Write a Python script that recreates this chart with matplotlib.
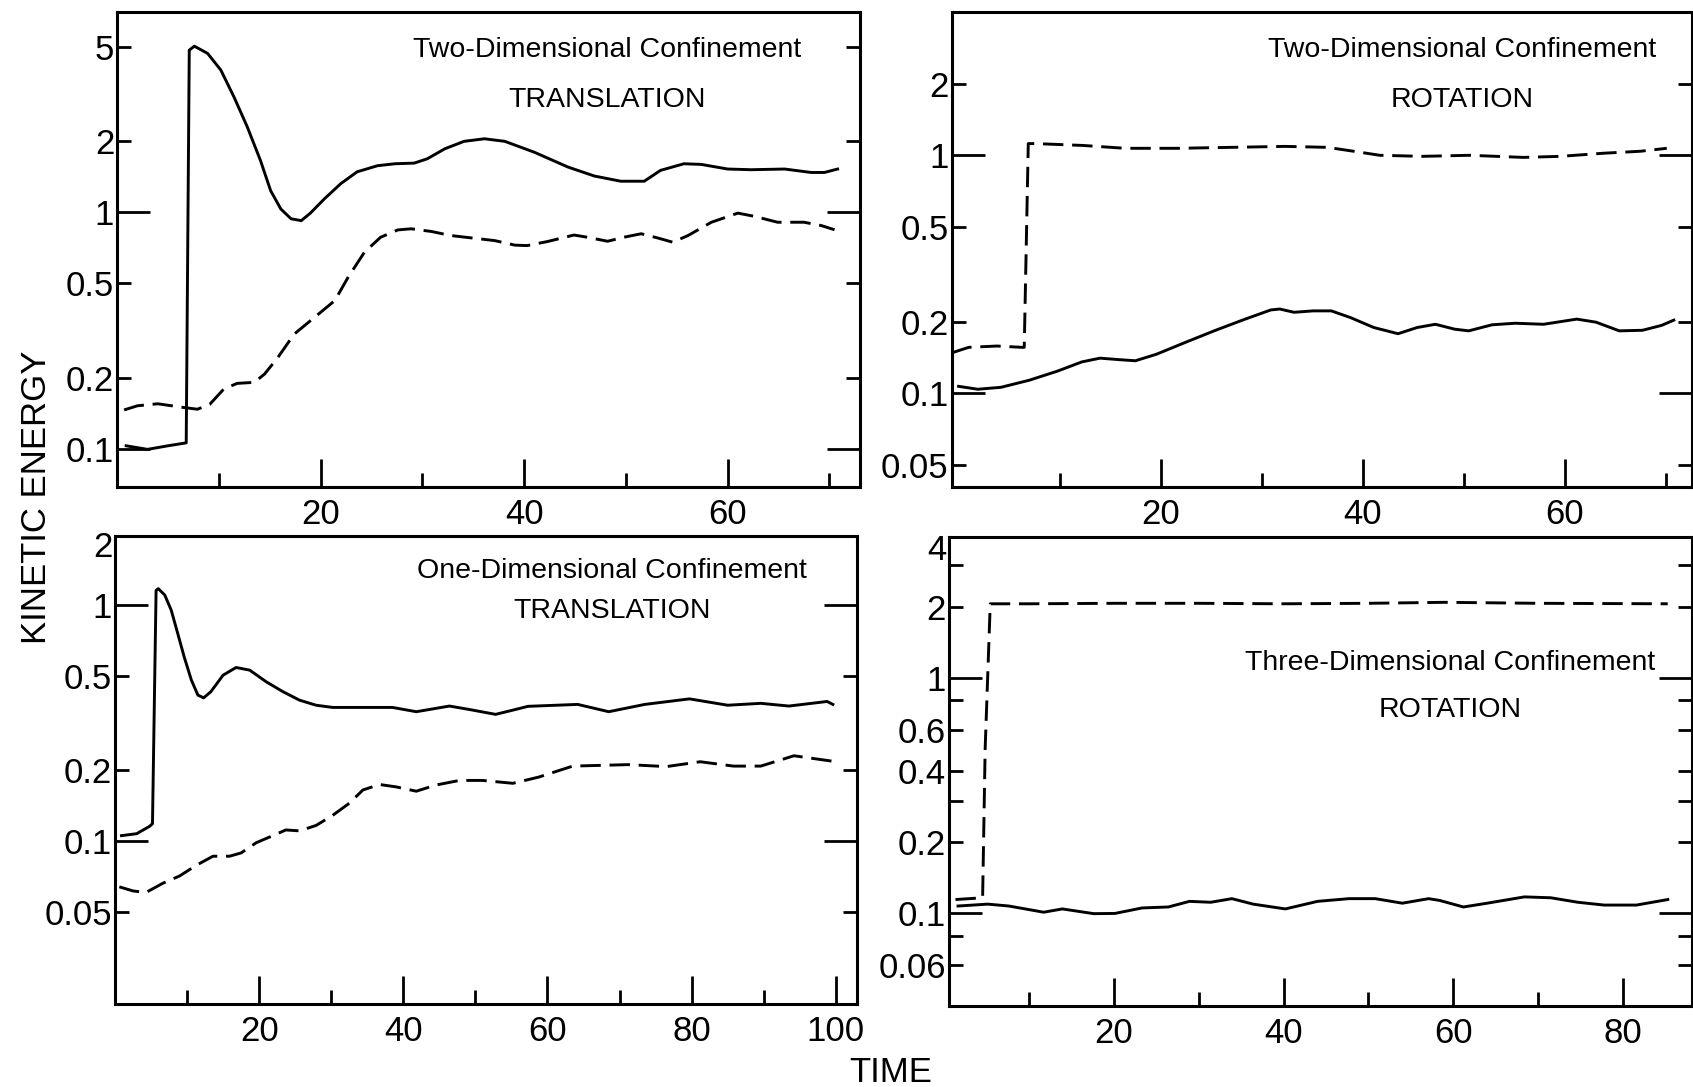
import matplotlib.pyplot as plt

plt.rcParams['font.family'] = ['Liberation Sans', 'DejaVu Sans']

# top left: two-dimensional confinement, translation
tl_solid_t = [0.9, 3.0, 5.0, 6.8, 7.1, 7.6, 8.9, 10.2, 11.5, 12.8, 14.1, 15.1, 16.1, 17.1, 18.1, 19.0,
              20.4, 22.0, 23.6, 25.6, 27.3, 29.2, 30.5, 32.2, 34.1, 36.1, 38.1, 41.0, 44.3, 46.9, 49.5,
              51.8, 53.4, 55.7, 57.4, 60.0, 62.3, 65.6, 68.2, 69.5, 70.8]
tl_solid_ke = [0.103, 0.0995, 0.103, 0.106, 4.83, 5.02, 4.68, 3.98, 3.06, 2.29, 1.65, 1.23, 1.03, 0.937, 0.92, 0.99,
               1.14, 1.32, 1.48, 1.57, 1.60, 1.61, 1.68, 1.85, 1.99, 2.04, 1.99, 1.79, 1.55, 1.42, 1.35,
               1.35, 1.50, 1.60, 1.59, 1.52, 1.51, 1.52, 1.47, 1.47, 1.52]
tl_dash_t = [0.7, 2.0, 4.0, 6.3, 7.9, 9.1, 10.5, 11.8, 13.5, 14.5, 15.8, 17.4, 19.4, 21.4, 22.7, 24.3,
             25.9, 27.6, 28.9, 30.9, 32.8, 34.8, 37.1, 39.1, 40.3, 42.3, 44.9, 46.2, 48.2, 49.8, 51.5,
             53.1, 54.6, 56.1, 58.4, 61.0, 62.6, 64.9, 67.5, 69.2, 70.5]
tl_dash_ke = [0.146, 0.152, 0.155, 0.150, 0.147, 0.154, 0.179, 0.189, 0.191, 0.207, 0.243, 0.305, 0.359, 0.423,
              0.53, 0.676, 0.783, 0.841, 0.85, 0.828, 0.796, 0.778, 0.758, 0.725, 0.722, 0.751, 0.80, 0.783,
              0.753, 0.783, 0.81, 0.778, 0.746, 0.796, 0.906, 0.99, 0.96, 0.906, 0.906, 0.877, 0.842]

# top right: two-dimensional confinement, rotation
tr_solid_t = [0.0, 1.9, 4.2, 7.0, 9.8, 12.2, 14.0, 15.9, 17.5, 19.6, 22.5, 25.3, 28.1, 30.9, 31.8, 33.2,
              35.1, 36.9, 38.8, 41.1, 43.5, 45.4, 47.2, 49.1, 50.5, 52.8, 55.1, 57.9, 61.2, 63.1, 65.4,
              67.7, 69.6, 70.8]
tr_solid_ke = [0.107, 0.104, 0.106, 0.1135, 0.124, 0.1355, 0.1405, 0.1385, 0.137, 0.146, 0.164, 0.183, 0.203,
               0.224, 0.226, 0.219, 0.222, 0.222, 0.208, 0.189, 0.178, 0.189, 0.195, 0.186, 0.183, 0.194,
               0.197, 0.195, 0.205, 0.199, 0.183, 0.184, 0.193, 0.203]
tr_dash_t = [-0.65, 1.0, 3.8, 6.3, 6.5, 6.9, 7.6, 12.3, 16.5, 21.7, 27.0, 32.3, 36.5, 39.1, 41.7, 45.9,
             50.6, 55.9, 59.6, 63.8, 67.5, 70.1]
tr_dash_ke = [0.148, 0.156, 0.158, 0.156, 0.156, 1.12, 1.12, 1.10, 1.07, 1.07, 1.08, 1.09, 1.08, 1.04, 1.00, 0.99,
              1.00, 0.98, 0.99, 1.02, 1.04, 1.07]

# bottom left: one-dimensional confinement, translation
bl_solid_t = [0.9, 3.0, 4.8, 5.2, 5.7, 6.0, 6.9, 7.8, 8.7, 9.6, 10.6, 11.5, 12.3, 13.3, 15.0, 16.8,
              18.7, 21.0, 23.3, 25.6, 27.9, 30.2, 33.4, 38.5, 41.8, 46.4, 49.1, 52.8, 55.6, 57.3,
              64.2, 68.5, 73.5, 79.7, 85.0, 89.6, 93.5, 98.8, 99.6]
bl_solid_ke = [0.105, 0.107, 0.115, 0.118, 1.15, 1.17, 1.10, 0.949, 0.756, 0.601, 0.479, 0.414, 0.403, 0.428,
               0.503, 0.542, 0.528, 0.471, 0.428, 0.394, 0.375, 0.367, 0.367, 0.367, 0.352, 0.372, 0.360,
               0.343, 0.360, 0.371, 0.378, 0.352, 0.378, 0.399, 0.375, 0.382, 0.372, 0.389, 0.378]
bl_dash_t = [0.6, 2.5, 4.3, 6.65, 8.95, 11.3, 13.6, 15.9, 17.5, 19.6, 21.9, 23.7, 25.6, 27.9, 30.2, 32.5,
             34.4, 36.7, 39.0, 41.8, 44.5, 47.8, 51.0, 55.2, 58.8, 63.5, 71.2, 76.5, 81.2, 85.8, 89.6,
             94.2, 99.6]
bl_dash_ke = [0.0637, 0.0612, 0.0603, 0.066, 0.0708, 0.0787, 0.0859, 0.0859, 0.0887, 0.098, 0.105, 0.111, 0.110,
              0.116, 0.128, 0.144, 0.164, 0.173, 0.169, 0.162, 0.172, 0.180, 0.180, 0.175, 0.186, 0.207,
              0.210, 0.206, 0.216, 0.207, 0.207, 0.229, 0.217]

# bottom right: three-dimensional confinement, rotation
br_solid_t = [1.6, 5.1, 7.6, 11.7, 13.9, 17.6, 20.1, 23.3, 26.4, 28.9, 31.4, 33.9, 36.4, 40.2, 44.0, 47.7,
              50.8, 54.0, 57.1, 58.4, 61.2, 64.0, 68.4, 71.5, 74.7, 77.8, 81.6, 85.3]
br_solid_ke = [0.107, 0.109, 0.107, 0.1007, 0.104, 0.0993, 0.0995, 0.105, 0.106, 0.112, 0.111, 0.115, 0.109, 0.104,
               0.112, 0.115, 0.115, 0.110, 0.115, 0.113, 0.106, 0.110, 0.117, 0.116, 0.111, 0.108, 0.108, 0.114]
br_dash_t = [1.3, 4.5, 4.8, 5.4, 10.0, 20.0, 30.0, 40.0, 50.0, 59.0, 70.0, 85.3]
br_dash_ke = [0.114, 0.116, 0.5, 2.06, 2.06, 2.07, 2.07, 2.06, 2.07, 2.09, 2.07, 2.06]

LW = 2.1
DASH = (7, 3)
TITLE_SIZE = 20.5


def style(ax, xlim, ylim, xmajor, xminor, ylabeled, ylabels, yminor_extra=()):
    ax.set_yscale('log')
    ax.set_xlim(*xlim)
    ax.set_ylim(*ylim)
    for s in ax.spines.values():
        s.set_linewidth(2.2)
    ax.set_xticks(xmajor, [str(v) for v in xmajor])
    ax.set_xticks(xminor, minor=True)
    # decades get the long ticks, the rest short ones
    ymajor = [0.1, 1]
    ax.set_yticks(ymajor, [ylabels[ylabeled.index(v)] if v in ylabeled else '' for v in ymajor])
    minors = [v for v in ylabeled if v not in ymajor] + list(yminor_extra)
    ax.set_yticks(minors, [ylabels[ylabeled.index(v)] if v in ylabeled else '' for v in minors], minor=True)
    ax.tick_params(axis='x', which='major', direction='in', length=20, width=2, labelsize=25, pad=8)
    ax.tick_params(axis='x', which='minor', direction='in', length=10, width=2)
    ax.tick_params(axis='y', which='major', direction='in', length=24, width=2, labelsize=25,
                   left=True, right=True, pad=2)
    ax.tick_params(axis='y', which='minor', direction='in', length=10, width=2, labelsize=25,
                   left=True, right=True, pad=2)


fig = plt.figure(figsize=(16.93, 10.87), dpi=100)

ax1 = fig.add_axes([117 / 1693, 1 - 487 / 1087, 743 / 1693, 475 / 1087])
ax1.plot(tl_solid_t, tl_solid_ke, color='black', lw=LW)
ax1.plot(tl_dash_t, tl_dash_ke, color='black', lw=LW, dashes=DASH)
style(ax1, (0, 73), (0.069, 7.0), [20, 40, 60], [10, 30, 50, 70],
      [0.1, 0.2, 0.5, 1, 2, 5], ['0.1', '0.2', '0.5', '1', '2', '5'])
ax1.text(0.66, 0.92, 'Two-Dimensional Confinement', transform=ax1.transAxes, ha='center', va='center',
         fontsize=TITLE_SIZE)
ax1.text(0.66, 0.815, 'TRANSLATION', transform=ax1.transAxes, ha='center', va='center', fontsize=TITLE_SIZE)

ax2 = fig.add_axes([951.5 / 1693, 1 - 487 / 1087, 740.5 / 1693, 475 / 1087])
ax2.plot(tr_solid_t, tr_solid_ke, color='black', lw=LW)
ax2.plot(tr_dash_t, tr_dash_ke, color='black', lw=LW, dashes=DASH)
style(ax2, (-0.7, 72.6), (0.0404, 4.0), [20, 40, 60], [10, 30, 50, 70],
      [0.05, 0.1, 0.2, 0.5, 1, 2], ['0.05', '0.1', '0.2', '0.5', '1', '2'])
ax2.text(0.69, 0.92, 'Two-Dimensional Confinement', transform=ax2.transAxes, ha='center', va='center',
         fontsize=TITLE_SIZE)
ax2.text(0.69, 0.815, 'ROTATION', transform=ax2.transAxes, ha='center', va='center', fontsize=TITLE_SIZE)

ax3 = fig.add_axes([115 / 1693, 1 - 1004 / 1087, 742.4 / 1693, 468.2 / 1087])
ax3.plot(bl_solid_t, bl_solid_ke, color='black', lw=LW)
ax3.plot(bl_dash_t, bl_dash_ke, color='black', lw=LW, dashes=DASH)
style(ax3, (0, 103), (0.0203, 1.96), [20, 40, 60, 80, 100], [10, 30, 50, 70, 90],
      [0.05, 0.1, 0.2, 0.5, 1], ['0.05', '0.1', '0.2', '0.5', '1'])
ax3.text(-0.003, 0.975, '2', transform=ax3.transAxes, ha='right', va='center', fontsize=25)
ax3.text(0.67, 0.925, 'One-Dimensional Confinement', transform=ax3.transAxes, ha='center', va='center',
         fontsize=TITLE_SIZE)
ax3.text(0.67, 0.84, 'TRANSLATION', transform=ax3.transAxes, ha='center', va='center', fontsize=TITLE_SIZE)

ax4 = fig.add_axes([948.7 / 1693, 1 - 1005.8 / 1087, 742.8 / 1693, 469.3 / 1087])
ax4.plot(br_solid_t, br_solid_ke, color='black', lw=LW)
ax4.plot(br_dash_t, br_dash_ke, color='black', lw=LW, dashes=DASH)
style(ax4, (0.5, 88.1), (0.0403, 3.98), [20, 40, 60, 80], [10, 30, 50, 70],
      [0.06, 0.1, 0.2, 0.4, 0.6, 1, 2], ['0.06', '0.1', '0.2', '0.4', '0.6', '1', '2'],
      yminor_extra=[0.08, 0.3, 0.8, 3])
ax4.text(-0.003, 0.97, '4', transform=ax4.transAxes, ha='right', va='center', fontsize=25)
ax4.text(0.675, 0.73, 'Three-Dimensional Confinement', transform=ax4.transAxes, ha='center', va='center',
         fontsize=TITLE_SIZE)
ax4.text(0.675, 0.63, 'ROTATION', transform=ax4.transAxes, ha='center', va='center', fontsize=TITLE_SIZE)

fig.text(37 / 1693, 1 - 497 / 1087, 'KINETIC ENERGY', rotation=90, ha='center', va='center', fontsize=25)
fig.text(891 / 1693, 1 - 1072 / 1087, 'TIME', ha='center', va='center', fontsize=25)

fig.savefig('out.png', dpi=100)
